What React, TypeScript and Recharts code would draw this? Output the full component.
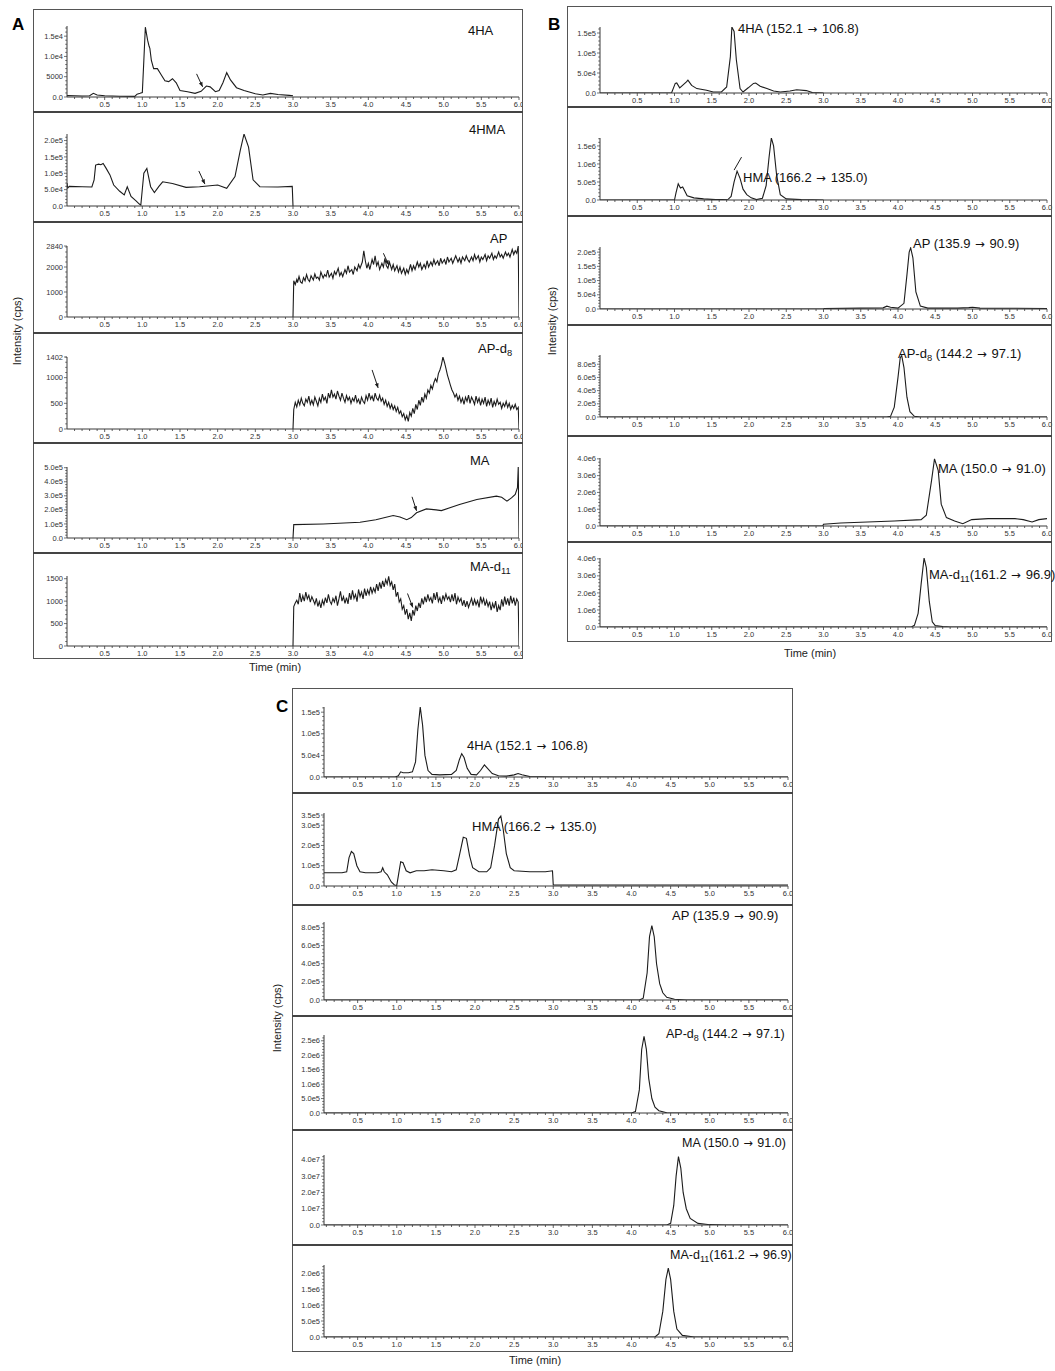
import React from 'react';
import { LineChart, Line, XAxis, YAxis, ReferenceLine } from 'recharts';

type Pt = [number, number];

// ---------- axis tick values / labels ----------
const xMinorTicks = Array.from({ length: 60 }, (_, i) => (i + 1) / 10);
const xMajorTicks = [0.5, 1.0, 1.5, 2.0, 2.5, 3.0, 3.5, 4.0, 4.5, 5.0, 5.5, 6.0];
const xTickLabels = ['0.5', '1.0', '1.5', '2.0', '2.5', '3.0', '3.5', '4.0', '4.5', '5.0', '5.5', '6.0'];

// ---------- Panel A data ----------
const a4HA: Pt[] = [[0, 350], [0.1, 300], [0.2, 250], [0.3, 300], [0.35, 900], [0.4, 500], [0.5, 300], [0.7, 200], [0.9, 150], [0.93, 700], [0.97, 900], [1.0, 1100], [1.02, 9000], [1.04, 17200], [1.07, 14000], [1.09, 12500], [1.1, 12000], [1.12, 9000], [1.15, 7000], [1.2, 7000], [1.25, 5500], [1.3, 4000], [1.35, 3800], [1.4, 4500], [1.45, 3500], [1.5, 1600], [1.6, 1300], [1.7, 900], [1.78, 1400], [1.85, 2700], [1.9, 2500], [1.97, 1300], [2.02, 1600], [2.07, 3500], [2.12, 6000], [2.17, 4200], [2.25, 2300], [2.35, 1600], [2.5, 800], [2.6, 500], [2.7, 900], [2.8, 600], [2.95, 400], [3.0, 300]];
const a4HATicks = [0, 5000, 10000, 15000];
const a4HALabels = ['0.0', '5000', '1.0e4', '1.5e4'];

const a4HMA: Pt[] = [[0, 70000], [0.01, 55000], [0.03, 60000], [0.2, 59000], [0.33, 58000], [0.36, 80000], [0.38, 125000], [0.42, 128000], [0.45, 126000], [0.48, 130000], [0.52, 115000], [0.57, 95000], [0.62, 64000], [0.7, 45000], [0.76, 34000], [0.8, 59000], [0.85, 29000], [0.92, 15000], [0.96, 6000], [0.98, 3000], [1.02, 100000], [1.06, 115000], [1.11, 59000], [1.16, 41000], [1.22, 60000], [1.27, 74000], [1.4, 69000], [1.58, 57000], [1.76, 59000], [2.0, 64000], [2.12, 54000], [2.23, 90000], [2.3, 170000], [2.35, 220000], [2.41, 180000], [2.47, 80000], [2.56, 59000], [2.8, 58000], [2.99, 60000], [3.0, 0]];
const a4HMATicks = [0, 50000, 100000, 150000, 200000];
const a4HMALabels = ['0.0', '5.0e4', '1.0e5', '1.5e5', '2.0e5'];

const aAP: Pt[] = [[3.0, 0], [3.01, 1450], [3.03, 1300], [3.05, 1500], [3.06, 1380], [3.08, 1620], [3.1, 1400], [3.12, 1350], [3.14, 1580], [3.16, 1450], [3.18, 1700], [3.2, 1500], [3.22, 1420], [3.24, 1650], [3.27, 1480], [3.29, 1720], [3.31, 1550], [3.33, 1600], [3.35, 1480], [3.37, 1800], [3.4, 1560], [3.42, 1700], [3.44, 1620], [3.46, 1880], [3.48, 1600], [3.51, 1750], [3.53, 1550], [3.55, 1820], [3.57, 1700], [3.6, 1950], [3.62, 1650], [3.64, 1780], [3.66, 1620], [3.69, 1900], [3.71, 1750], [3.73, 2050], [3.75, 1800], [3.78, 1900], [3.8, 1700], [3.82, 2000], [3.85, 1850], [3.87, 2100], [3.89, 1950], [3.92, 2200], [3.94, 2650], [3.96, 2250], [3.98, 1950], [4.0, 2150], [4.02, 1900], [4.05, 2300], [4.07, 2100], [4.09, 2450], [4.11, 2050], [4.13, 2200], [4.15, 1900], [4.18, 2150], [4.2, 2000], [4.22, 2350], [4.24, 2050], [4.26, 1950], [4.28, 2200], [4.31, 1900], [4.33, 2100], [4.35, 1850], [4.38, 2050], [4.4, 1800], [4.42, 2000], [4.44, 1750], [4.47, 1950], [4.49, 1700], [4.51, 1900], [4.53, 1750], [4.56, 2100], [4.58, 1850], [4.6, 2050], [4.62, 1900], [4.65, 2200], [4.67, 2000], [4.69, 2150], [4.71, 1900], [4.74, 2100], [4.76, 1950], [4.78, 2250], [4.8, 2000], [4.83, 2200], [4.85, 2050], [4.87, 2300], [4.89, 2100], [4.92, 2250], [4.94, 2050], [4.96, 2350], [4.98, 2150], [5.01, 2300], [5.03, 2100], [5.05, 2400], [5.07, 2200], [5.1, 2350], [5.12, 2150], [5.14, 2300], [5.16, 2450], [5.19, 2200], [5.21, 2350], [5.23, 2150], [5.25, 2400], [5.28, 2250], [5.3, 2450], [5.32, 2300], [5.34, 2200], [5.37, 2400], [5.39, 2250], [5.41, 2500], [5.43, 2300], [5.46, 2450], [5.48, 2200], [5.5, 2400], [5.52, 2300], [5.55, 2500], [5.57, 2250], [5.59, 2450], [5.61, 2350], [5.64, 2550], [5.66, 2300], [5.68, 2450], [5.7, 2350], [5.73, 2600], [5.75, 2400], [5.77, 2500], [5.79, 2350], [5.82, 2600], [5.84, 2450], [5.86, 2550], [5.88, 2400], [5.91, 2700], [5.93, 2500], [5.95, 2650], [5.97, 2550], [5.99, 2840], [6.0, 0]];
const aAPTicks = [0, 1000, 2000, 2840];
const aAPLabels = ['0', '1000', '2000', '2840'];

const aAPd8: Pt[] = [[3.0, 0], [3.01, 380], [3.03, 520], [3.05, 430], [3.07, 560], [3.09, 470], [3.11, 600], [3.13, 500], [3.15, 450], [3.17, 580], [3.19, 520], [3.21, 640], [3.23, 480], [3.25, 560], [3.27, 470], [3.29, 620], [3.31, 540], [3.33, 450], [3.35, 600], [3.37, 520], [3.39, 680], [3.41, 560], [3.43, 620], [3.45, 500], [3.47, 700], [3.49, 600], [3.51, 760], [3.53, 620], [3.55, 680], [3.57, 580], [3.59, 740], [3.61, 640], [3.63, 560], [3.65, 700], [3.67, 600], [3.69, 520], [3.71, 650], [3.73, 560], [3.75, 620], [3.77, 500], [3.79, 600], [3.81, 540], [3.83, 660], [3.85, 520], [3.87, 580], [3.89, 480], [3.91, 620], [3.93, 540], [3.95, 500], [3.97, 650], [3.99, 560], [4.01, 700], [4.03, 580], [4.05, 640], [4.07, 540], [4.09, 700], [4.11, 600], [4.13, 560], [4.15, 660], [4.17, 540], [4.19, 600], [4.21, 480], [4.23, 560], [4.25, 440], [4.27, 520], [4.29, 400], [4.31, 480], [4.33, 380], [4.35, 450], [4.37, 340], [4.39, 420], [4.41, 300], [4.43, 350], [4.45, 240], [4.47, 300], [4.49, 180], [4.51, 260], [4.53, 150], [4.55, 320], [4.57, 250], [4.59, 400], [4.61, 300], [4.63, 480], [4.65, 380], [4.67, 560], [4.69, 460], [4.71, 620], [4.73, 520], [4.75, 680], [4.77, 600], [4.79, 760], [4.81, 700], [4.83, 850], [4.85, 780], [4.87, 900], [4.89, 980], [4.91, 920], [4.93, 1080], [4.95, 1150], [4.97, 1250], [4.99, 1400], [5.01, 1300], [5.03, 1180], [5.05, 1050], [5.07, 950], [5.09, 850], [5.11, 760], [5.13, 700], [5.15, 620], [5.17, 680], [5.19, 560], [5.21, 640], [5.23, 520], [5.25, 600], [5.27, 480], [5.29, 620], [5.31, 540], [5.33, 660], [5.35, 500], [5.37, 620], [5.39, 560], [5.41, 480], [5.43, 640], [5.45, 520], [5.47, 600], [5.49, 460], [5.51, 580], [5.53, 500], [5.55, 620], [5.57, 440], [5.59, 560], [5.61, 480], [5.63, 600], [5.65, 420], [5.67, 540], [5.69, 460], [5.71, 580], [5.73, 480], [5.75, 520], [5.77, 400], [5.79, 500], [5.81, 440], [5.83, 540], [5.85, 420], [5.87, 500], [5.89, 380], [5.91, 460], [5.93, 400], [5.95, 480], [5.97, 380], [5.99, 420], [6.0, 0]];
const aAPd8Ticks = [0, 500, 1000, 1402];
const aAPd8Labels = ['0', '500', '1000', '1402'];

const aMA: Pt[] = [[3.0, 0], [3.01, 95000], [3.4, 100000], [3.89, 112000], [4.1, 130000], [4.33, 160000], [4.42, 150000], [4.51, 130000], [4.57, 145000], [4.64, 179000], [4.77, 207000], [4.9, 200000], [4.97, 195000], [5.21, 238000], [5.44, 274000], [5.7, 298000], [5.77, 290000], [5.84, 262000], [5.9, 285000], [5.95, 310000], [5.98, 360000], [5.99, 505000], [6.0, 0]];
const aMATicks = [0, 100000, 200000, 300000, 400000, 500000];
const aMALabels = ['0.0', '1.0e5', '2.0e5', '3.0e5', '4.0e5', '5.0e5'];

const aMAd11: Pt[] = [[3.0, 0], [3.01, 880], [3.03, 960], [3.05, 1020], [3.07, 930], [3.09, 1180], [3.11, 980], [3.13, 1120], [3.15, 1000], [3.17, 1200], [3.19, 1050], [3.21, 1130], [3.23, 980], [3.25, 1100], [3.27, 1020], [3.29, 930], [3.31, 1060], [3.33, 880], [3.35, 990], [3.37, 850], [3.39, 1020], [3.41, 920], [3.43, 1080], [3.45, 960], [3.47, 1150], [3.49, 1000], [3.51, 930], [3.53, 1060], [3.55, 980], [3.57, 1120], [3.59, 900], [3.61, 1050], [3.63, 1220], [3.65, 1000], [3.67, 1100], [3.69, 950], [3.71, 1080], [3.73, 940], [3.75, 1180], [3.77, 1030], [3.79, 1240], [3.81, 1060], [3.83, 1150], [3.85, 990], [3.87, 1260], [3.89, 1100], [3.91, 1200], [3.93, 1050], [3.95, 1280], [3.97, 1120], [3.99, 1250], [4.01, 1150], [4.03, 1320], [4.05, 1180], [4.07, 1290], [4.09, 1200], [4.11, 1380], [4.13, 1230], [4.15, 1420], [4.17, 1280], [4.19, 1450], [4.21, 1320], [4.23, 1480], [4.25, 1380], [4.27, 1550], [4.29, 1350], [4.31, 1430], [4.33, 1250], [4.35, 1380], [4.37, 1100], [4.39, 1200], [4.41, 980], [4.43, 1050], [4.45, 820], [4.47, 900], [4.49, 700], [4.51, 820], [4.53, 600], [4.55, 740], [4.57, 560], [4.59, 800], [4.61, 680], [4.63, 900], [4.65, 780], [4.67, 960], [4.69, 850], [4.71, 1060], [4.73, 930], [4.75, 1100], [4.77, 980], [4.79, 1150], [4.81, 1010], [4.83, 1080], [4.85, 950], [4.87, 1180], [4.89, 1030], [4.91, 1200], [4.93, 990], [4.95, 1080], [4.97, 940], [4.99, 1130], [5.01, 1020], [5.03, 1160], [5.05, 1040], [5.07, 1100], [5.09, 980], [5.11, 1150], [5.13, 1000], [5.15, 1180], [5.17, 930], [5.19, 1090], [5.21, 990], [5.23, 1060], [5.25, 900], [5.27, 1020], [5.29, 870], [5.31, 1000], [5.33, 860], [5.35, 960], [5.37, 1060], [5.39, 900], [5.41, 1040], [5.43, 920], [5.45, 1010], [5.47, 860], [5.49, 1100], [5.51, 960], [5.53, 1060], [5.55, 900], [5.57, 1020], [5.59, 880], [5.61, 990], [5.63, 800], [5.65, 950], [5.67, 840], [5.69, 1000], [5.71, 760], [5.73, 900], [5.75, 800], [5.77, 1040], [5.79, 880], [5.81, 1100], [5.83, 920], [5.85, 1060], [5.87, 900], [5.89, 1120], [5.91, 950], [5.93, 1080], [5.95, 900], [5.97, 1050], [5.99, 980], [6.0, 0]];
const aMAd11Ticks = [0, 500, 1000, 1500];
const aMAd11Labels = ['0', '500', '1000', '1500'];

// ---------- Panel B data ----------
const b4HA: Pt[] = [[0, 0], [0.96, 0], [1.01, 24000], [1.03, 25000], [1.07, 13000], [1.16, 28000], [1.18, 32000], [1.23, 19000], [1.3, 11000], [1.43, 6700], [1.52, 2500], [1.63, 2500], [1.7, 15000], [1.75, 91000], [1.77, 165000], [1.8, 154000], [1.83, 83000], [1.88, 11000], [1.92, 2500], [1.99, 13000], [2.06, 24000], [2.09, 25000], [2.15, 17000], [2.24, 11000], [2.33, 5000], [2.42, 2500], [2.55, 5000], [2.64, 8000], [2.77, 6000], [2.85, 1000], [3.0, 0]];
const b4HATicks = [0, 50000, 100000, 150000];
const b4HALabels = ['0.0', '5.0e4', '1.0e5', '1.5e5'];

const bHMA: Pt[] = [[0, 0], [1.0, 0], [1.02, 200000], [1.05, 450000], [1.08, 330000], [1.11, 360000], [1.17, 120000], [1.26, 60000], [1.39, 30000], [1.55, 10000], [1.72, 20000], [1.76, 100000], [1.8, 500000], [1.84, 800000], [1.88, 600000], [1.92, 300000], [1.97, 150000], [2.03, 60000], [2.1, 10000], [2.18, 50000], [2.23, 400000], [2.27, 1200000], [2.3, 1720000], [2.33, 1500000], [2.37, 700000], [2.42, 150000], [2.5, 30000], [2.7, 10000], [3.0, 0]];
const bHMATicks = [0, 500000, 1000000, 1500000];
const bHMALabels = ['0.0', '5.0e5', '1.0e6', '1.5e6'];

const bAP: Pt[] = [[0, 0], [3.0, 0], [3.01, 2000], [3.5, 3000], [3.8, 4000], [3.85, 10000], [3.9, 6000], [4.0, 3000], [4.08, 20000], [4.12, 120000], [4.15, 200000], [4.17, 215000], [4.2, 180000], [4.24, 60000], [4.3, 10000], [4.4, 3000], [4.8, 3000], [4.95, 5000], [5.0, 6000], [5.1, 3000], [6.0, 2000]];
const bAPTicks = [0, 50000, 100000, 150000, 200000];
const bAPLabels = ['0.0', '5.0e4', '1.0e5', '1.5e5', '2.0e5'];

const bAPd8: Pt[] = [[0, 0], [3.85, 0], [3.9, 10000], [3.95, 150000], [4.0, 600000], [4.03, 900000], [4.05, 930000], [4.08, 750000], [4.12, 300000], [4.16, 80000], [4.22, 10000], [4.3, 0], [6.0, 0]];
const bAPd8Ticks = [0, 200000, 400000, 600000, 800000];
const bAPd8Labels = ['0.0', '2.0e5', '4.0e5', '6.0e5', '8.0e5'];

const bMA: Pt[] = [[0, 0], [2.99, 0], [3.0, 100000], [3.23, 180000], [3.59, 240000], [3.95, 300000], [4.31, 380000], [4.38, 640000], [4.45, 2700000], [4.49, 4000000], [4.54, 3300000], [4.58, 1300000], [4.65, 500000], [4.76, 300000], [4.87, 140000], [4.99, 380000], [5.21, 440000], [5.57, 440000], [5.68, 380000], [5.8, 240000], [5.89, 380000], [6.0, 440000]];
const bMATicks = [0, 1000000, 2000000, 3000000, 4000000];
const bMALabels = ['0.0', '1.0e6', '2.0e6', '3.0e6', '4.0e6'];

const bMAd11: Pt[] = [[0, 0], [4.18, 0], [4.22, 100000], [4.27, 800000], [4.31, 2500000], [4.35, 4050000], [4.38, 3500000], [4.42, 1500000], [4.46, 300000], [4.5, 80000], [4.6, 30000], [4.7, 0], [6.0, 0]];
const bMAd11Ticks = [0, 1000000, 2000000, 3000000, 4000000];
const bMAd11Labels = ['0.0', '1.0e6', '2.0e6', '3.0e6', '4.0e6'];

// ---------- Panel C data ----------
const c4HA: Pt[] = [[0, 0], [0.98, 0], [1.02, 3000], [1.05, 12000], [1.08, 10000], [1.15, 10000], [1.2, 12000], [1.24, 35000], [1.27, 110000], [1.3, 162000], [1.33, 120000], [1.36, 50000], [1.4, 15000], [1.45, 6000], [1.55, 5000], [1.7, 6000], [1.76, 15000], [1.8, 40000], [1.83, 54000], [1.86, 45000], [1.9, 20000], [1.95, 6000], [2.02, 5000], [2.07, 15000], [2.12, 28000], [2.16, 20000], [2.22, 8000], [2.3, 3000], [2.4, 2000], [2.5, 5000], [2.55, 8000], [2.6, 5000], [2.7, 1000], [3.0, 0], [6.0, 0]];
const c4HATicks = [0, 50000, 100000, 150000];
const c4HALabels = ['0.0', '5.0e4', '1.0e5', '1.5e5'];

const cHMA: Pt[] = [[0, 65000], [0.3, 65000], [0.36, 70000], [0.39, 140000], [0.42, 170000], [0.45, 160000], [0.49, 100000], [0.53, 70000], [0.6, 65000], [0.75, 65000], [0.8, 70000], [0.82, 90000], [0.84, 70000], [0.88, 55000], [0.93, 20000], [0.97, 5000], [1.0, 3000], [1.02, 50000], [1.05, 120000], [1.08, 115000], [1.12, 75000], [1.17, 65000], [1.25, 75000], [1.35, 75000], [1.45, 80000], [1.6, 75000], [1.7, 70000], [1.76, 80000], [1.8, 150000], [1.85, 240000], [1.89, 235000], [1.93, 150000], [1.97, 90000], [2.05, 70000], [2.15, 70000], [2.2, 90000], [2.25, 200000], [2.3, 330000], [2.33, 345000], [2.36, 280000], [2.4, 160000], [2.45, 90000], [2.5, 75000], [2.7, 70000], [2.9, 70000], [2.99, 75000], [3.0, 5000], [6.0, 5000]];
const cHMATicks = [0, 100000, 200000, 300000, 350000];
const cHMALabels = ['0.0', '1.0e5', '2.0e5', '3.0e5', '3.5e5'];

const cAP: Pt[] = [[0, 0], [4.1, 0], [4.15, 20000], [4.2, 300000], [4.23, 700000], [4.26, 820000], [4.29, 700000], [4.32, 400000], [4.36, 180000], [4.4, 80000], [4.45, 30000], [4.55, 8000], [4.7, 0], [6.0, 0]];
const cAPTicks = [0, 200000, 400000, 600000, 800000];
const cAPLabels = ['0.0', '2.0e5', '4.0e5', '6.0e5', '8.0e5'];

const cAPd8: Pt[] = [[0, 0], [4.0, 0], [4.05, 50000], [4.1, 800000], [4.13, 2200000], [4.16, 2650000], [4.19, 2200000], [4.22, 1200000], [4.26, 500000], [4.3, 200000], [4.35, 80000], [4.45, 10000], [4.6, 0], [6.0, 0]];
const cAPd8Ticks = [0, 500000, 1000000, 1500000, 2000000, 2500000];
const cAPd8Labels = ['0.0', '5.0e5', '1.0e6', '1.5e6', '2.0e6', '2.5e6'];

const cMA: Pt[] = [[0, 0], [4.45, 0], [4.5, 1000000], [4.54, 12000000], [4.57, 30000000], [4.6, 42000000], [4.63, 35000000], [4.66, 20000000], [4.7, 10000000], [4.75, 4000000], [4.85, 1000000], [5.0, 200000], [5.2, 0], [6.0, 0]];
const cMATicks = [0, 10000000, 20000000, 30000000, 40000000];
const cMALabels = ['0.0', '1.0e7', '2.0e7', '3.0e7', '4.0e7'];

const cMAd11: Pt[] = [[0, 0], [4.3, 0], [4.35, 100000], [4.4, 800000], [4.44, 1800000], [4.47, 2150000], [4.5, 1800000], [4.54, 800000], [4.58, 250000], [4.65, 50000], [4.8, 0], [6.0, 0]];
const cMAd11Ticks = [0, 500000, 1000000, 1500000, 2000000];
const cMAd11Labels = ['0.0', '5.0e5', '1.0e6', '1.5e6', '2.0e6'];

// ---------- rendering ----------
const FONT = '"Liberation Sans", Arial, Helvetica, sans-serif';
const INK = '#1c1c1c';
const AX = '#3a3a3a';

interface Arrow { from: Pt; to: Pt; head?: boolean }
interface SubDef {
  data: Pt[];
  yMax: number;
  ticks: number[];
  labels: string[];
  T: number;
  B: number;
  arrows?: Arrow[];
}

const XTick = (p: any) => {
  const { x, y, payload } = p;
  const v = payload.value as number;
  const idx = xMajorTicks.findIndex((m) => Math.abs(m - v) < 1e-6);
  const major = idx >= 0;
  return (
    <g>
      <line x1={x} y1={y} x2={x} y2={y + (major ? 3 : 2)} stroke={AX} strokeWidth={0.8} />
      {major && (
        <text x={x} y={y + 10} textAnchor="middle" fontSize={7.5} fill="#333" fontFamily={FONT}>
          {xTickLabels[idx]}
        </text>
      )}
    </g>
  );
};

function makeYTick(ticks: number[], labels: string[]) {
  return (p: any) => {
    const { x, y, payload } = p;
    const v = payload.value as number;
    const idx = ticks.findIndex((m) => Math.abs(m - v) < 1e-9 * Math.max(1, Math.abs(m)));
    const major = idx >= 0;
    return (
      <g>
        <line x1={x} y1={y} x2={x - (major ? 3 : 1.8)} y2={y} stroke={AX} strokeWidth={0.7} />
        {major && (
          <text x={x - 4} y={y + 2.6} textAnchor="end" fontSize={7.5} fill="#333" fontFamily={FONT}>
            {labels[idx]}
          </text>
        )}
      </g>
    );
  };
}

const ArrowShape = (head: boolean) => (p: any) => {
  const { x1, y1, x2, y2 } = p;
  if ([x1, y1, x2, y2].some((n) => typeof n !== 'number' || isNaN(n))) return <g />;
  const ang = Math.atan2(y2 - y1, x2 - x1);
  const L = 5;
  const a1 = ang + Math.PI - 0.4;
  const a2 = ang + Math.PI + 0.4;
  return (
    <g>
      <line x1={x1} y1={y1} x2={x2} y2={y2} stroke={INK} strokeWidth={1} />
      {head && (
        <polygon
          points={`${x2},${y2} ${x2 + L * Math.cos(a1)},${y2 + L * Math.sin(a1)} ${x2 + L * Math.cos(a2)},${y2 + L * Math.sin(a2)}`}
          fill={INK}
        />
      )}
    </g>
  );
};

function Sub({ def, L, R, xMin }: { def: SubDef; L: number; R: number; xMin: number }) {
  const yW = 40;
  const xH = 16;
  const mt = 4;
  const mr = 8;
  const w = R - L + yW + mr;
  const h = def.B - def.T + mt + xH;
  const data = def.data.map(([t, v]) => ({ t, v }));
  const step = def.ticks[1] - def.ticks[0];
  const minors: number[] = [];
  for (let k = 1; (k * step) / 5 < def.yMax; k++) {
    if (k % 5 !== 0) minors.push((k * step) / 5);
  }
  const yAll = Array.from(new Set([...def.ticks, ...minors])).sort((a, b) => a - b);
  const xAll = xMinorTicks.filter((t) => t >= xMin);
  return (
    <div style={{ position: 'absolute', left: L - yW, top: def.T - mt }}>
      <LineChart width={w} height={h} data={data} margin={{ top: mt, right: mr, bottom: 0, left: 0 }}>
        <XAxis
          dataKey="t"
          type="number"
          domain={[xMin, 6]}
          ticks={xAll}
          interval={0}
          tick={(p: any) => <XTick {...p} />}
          tickLine={false}
          tickSize={0}
          tickMargin={0}
          axisLine={{ stroke: AX, strokeWidth: 1 }}
          height={xH}
          allowDataOverflow
        />
        <YAxis
          type="number"
          domain={[0, def.yMax]}
          ticks={yAll}
          interval={0}
          tick={makeYTick(def.ticks, def.labels)}
          tickLine={false}
          tickSize={0}
          tickMargin={0}
          axisLine={{ stroke: AX, strokeWidth: 1 }}
          width={yW}
          allowDataOverflow
        />
        <Line dataKey="v" type="linear" dot={false} stroke={INK} strokeWidth={1.1} isAnimationActive={false} />
        {(def.arrows || []).map((a, i) => (
          <ReferenceLine
            key={i}
            segment={[{ x: a.from[0], y: a.from[1] }, { x: a.to[0], y: a.to[1] }]}
            ifOverflow="visible"
            shape={ArrowShape(a.head !== false)}
          />
        ))}
      </LineChart>
    </div>
  );
}

const Sb = ({ n }: { n: string }) => (
  <span style={{ fontSize: '0.72em', verticalAlign: '-0.35em' }}>{n}</span>
);
const Arr = () => (
  <span style={{ fontFamily: '"DejaVu Sans", sans-serif', fontSize: '0.9em', margin: '0 1px' }}>→</span>
);

function Label({ x, y, children, size = 13 }: { x: number; y: number; children: React.ReactNode; size?: number }) {
  return (
    <div
      style={{
        position: 'absolute',
        left: x,
        top: y - size * 0.6,
        fontFamily: FONT,
        fontSize: size,
        lineHeight: '1.15em',
        color: '#111',
        whiteSpace: 'nowrap',
      }}
    >
      {children}
    </div>
  );
}

function Box({ x0, y0, x1, y1, dividers }: { x0: number; y0: number; x1: number; y1: number; dividers: number[] }) {
  return (
    <>
      <div
        style={{
          position: 'absolute',
          left: x0,
          top: y0,
          width: x1 - x0,
          height: y1 - y0,
          border: '1.5px solid #555',
          boxSizing: 'border-box',
          pointerEvents: 'none',
        }}
      />
      {dividers.map((d, i) => (
        <div key={i} style={{ position: 'absolute', left: x0, top: d - 1, width: x1 - x0, height: 2, background: '#444' }} />
      ))}
    </>
  );
}

function VText({ x, y, text }: { x: number; y: number; text: string }) {
  return (
    <div
      style={{
        position: 'absolute',
        left: x - 60,
        top: y - 8,
        width: 120,
        textAlign: 'center',
        transform: 'rotate(-90deg)',
        fontFamily: FONT,
        fontSize: 11,
        color: '#222',
      }}
    >
      {text}
    </div>
  );
}

function HText({ x, y, text }: { x: number; y: number; text: string }) {
  return (
    <div
      style={{
        position: 'absolute',
        left: x - 60,
        top: y - 8,
        width: 120,
        textAlign: 'center',
        fontFamily: FONT,
        fontSize: 11,
        color: '#222',
      }}
    >
      {text}
    </div>
  );
}

const panelA: SubDef[] = [
  { data: a4HA, yMax: 17500, ticks: a4HATicks, labels: a4HALabels, T: 26, B: 97, arrows: [{ from: [1.72, 5700], to: [1.8, 2500] }] },
  { data: a4HMA, yMax: 220000, ticks: a4HMATicks, labels: a4HMALabels, T: 134, B: 206, arrows: [{ from: [1.75, 107000], to: [1.83, 67000] }] },
  { data: aAP, yMax: 2840, ticks: aAPTicks, labels: aAPLabels, T: 246, B: 317, arrows: [{ from: [4.2, 2550], to: [4.27, 2080] }] },
  { data: aAPd8, yMax: 1402, ticks: aAPd8Ticks, labels: aAPd8Labels, T: 357, B: 429, arrows: [{ from: [4.05, 1150], to: [4.13, 800] }] },
  { data: aMA, yMax: 505000, ticks: aMATicks, labels: aMALabels, T: 467, B: 538, arrows: [{ from: [4.58, 293000], to: [4.64, 193000] }] },
  { data: aMAd11, yMax: 1560, ticks: aMAd11Ticks, labels: aMAd11Labels, T: 576, B: 646, arrows: [{ from: [4.52, 1170], to: [4.59, 860] }] },
];

const panelB: SubDef[] = [
  { data: b4HA, yMax: 165000, ticks: b4HATicks, labels: b4HALabels, T: 27, B: 93 },
  { data: bHMA, yMax: 1720000, ticks: bHMATicks, labels: bHMALabels, T: 138, B: 200, arrows: [{ from: [1.8, 830000], to: [1.9, 1190000], head: false }] },
  { data: bAP, yMax: 218000, ticks: bAPTicks, labels: bAPLabels, T: 247, B: 309 },
  { data: bAPd8, yMax: 940000, ticks: bAPd8Ticks, labels: bAPd8Labels, T: 355, B: 417 },
  { data: bMA, yMax: 4050000, ticks: bMATicks, labels: bMALabels, T: 458, B: 526 },
  { data: bMAd11, yMax: 4050000, ticks: bMAd11Ticks, labels: bMAd11Labels, T: 558, B: 627 },
];

const panelC: SubDef[] = [
  { data: c4HA, yMax: 162000, ticks: c4HATicks, labels: c4HALabels, T: 707, B: 777 },
  { data: cHMA, yMax: 360000, ticks: cHMATicks, labels: cHMALabels, T: 813, B: 886 },
  { data: cAP, yMax: 860000, ticks: cAPTicks, labels: cAPLabels, T: 922, B: 1000 },
  { data: cAPd8, yMax: 2700000, ticks: cAPd8Ticks, labels: cAPd8Labels, T: 1035, B: 1113 },
  { data: cMA, yMax: 43000000, ticks: cMATicks, labels: cMALabels, T: 1155, B: 1225 },
  { data: cMAd11, yMax: 2250000, ticks: cMAd11Ticks, labels: cMAd11Labels, T: 1265, B: 1337 },
];

export default function App() {
  return (
    <div style={{ position: 'absolute', left: 0, top: 0, width: 1055, height: 1371, background: '#fff', overflow: 'hidden' }}>
      {/* Panel A */}
      <div style={{ position: 'absolute', left: 0, top: 0, width: 523, height: 700, overflow: 'hidden' }}>
        {panelA.map((d, i) => (
          <Sub key={i} def={d} L={67} R={519} xMin={0} />
        ))}
      </div>
      <Box x0={33} y0={9} x1={523} y1={659} dividers={[112, 222, 333, 443, 553]} />
      <Label x={468} y={32}>4HA</Label>
      <Label x={469} y={131}>4HMA</Label>
      <Label x={490} y={240}>AP</Label>
      <Label x={478} y={350}>AP-d<Sb n="8" /></Label>
      <Label x={470} y={462}>MA</Label>
      <Label x={470} y={568}>MA-d<Sb n="11" /></Label>

      {/* Panel B */}
      {panelB.map((d, i) => (
        <Sub key={i} def={d} L={600} R={1047} xMin={0} />
      ))}
      <Box x0={567} y0={6} x1={1052} y1={642} dividers={[107, 216, 325, 436, 542]} />
      <Label x={738} y={30}>4HA (152.1 <Arr /> 106.8)</Label>
      <Label x={743} y={179}>HMA (166.2 <Arr /> 135.0)</Label>
      <Label x={913} y={245}>AP (135.9 <Arr /> 90.9)</Label>
      <Label x={898} y={355}>AP-d<Sb n="8" /> (144.2 <Arr /> 97.1)</Label>
      <Label x={938} y={470}>MA (150.0 <Arr /> 91.0)</Label>
      <Label x={929} y={576}>MA-d<Sb n="11" />(161.2 <Arr /> 96.9)</Label>

      {/* Panel C */}
      <div style={{ position: 'absolute', left: 0, top: 680, width: 793, height: 691, overflow: 'hidden' }}>
        <div style={{ position: 'absolute', left: 0, top: -680 }}>
          {panelC.map((d, i) => (
            <Sub key={i} def={d} L={324} R={788} xMin={0.07} />
          ))}
        </div>
      </div>
      <Box x0={292} y0={688} x1={793} y1={1352} dividers={[793, 905, 1016, 1130, 1245]} />
      <Label x={467} y={747}>4HA (152.1 <Arr /> 106.8)</Label>
      <Label x={472} y={828}>HMA (166.2 <Arr /> 135.0)</Label>
      <Label x={672} y={917}>AP (135.9 <Arr /> 90.9)</Label>
      <Label x={666} y={1034} size={12.5}>AP-d<Sb n="8" /> (144.2 <Arr /> 97.1)</Label>
      <Label x={682} y={1143} size={12.5}>MA (150.0 <Arr /> 91.0)</Label>
      <Label x={670} y={1255} size={12.5}>MA-d<Sb n="11" />(161.2 <Arr /> 96.9)</Label>

      {/* Panel letters */}
      <div style={{ position: 'absolute', left: 12, top: 15, fontFamily: FONT, fontWeight: 'bold', fontSize: 17 }}>A</div>
      <div style={{ position: 'absolute', left: 548, top: 15, fontFamily: FONT, fontWeight: 'bold', fontSize: 17 }}>B</div>
      <div style={{ position: 'absolute', left: 276, top: 697, fontFamily: FONT, fontWeight: 'bold', fontSize: 17 }}>C</div>

      {/* Axis titles */}
      <VText x={17} y={333} text="Intensity (cps)" />
      <VText x={552} y={323} text="Intensity (cps)" />
      <VText x={277} y={1020} text="Intensity (cps)" />
      <HText x={275} y={669} text="Time (min)" />
      <HText x={810} y={655} text="Time (min)" />
      <HText x={535} y={1362} text="Time (min)" />
    </div>
  );
}
